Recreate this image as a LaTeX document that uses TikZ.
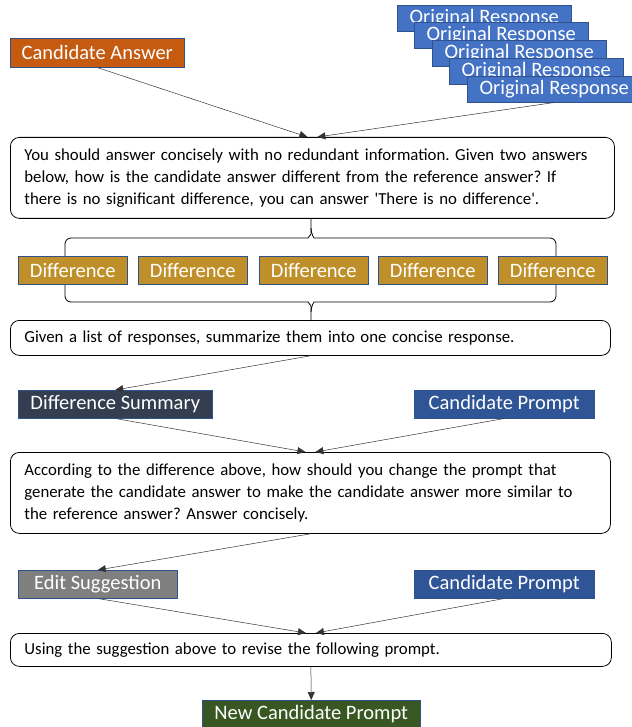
\documentclass[tikz,border=0pt]{standalone}
\usepackage{fontspec}
\setmainfont{Carlito}
\usetikzlibrary{arrows.meta}
\definecolor{origblue}{RGB}{68,114,196}
\definecolor{edgeblue}{RGB}{47,82,143}
\definecolor{candorange}{RGB}{197,90,17}
\definecolor{diffgold}{RGB}{191,144,41}
\definecolor{sumnavy}{RGB}{51,63,80}
\definecolor{promptblue}{RGB}{47,85,151}
\definecolor{editgray}{RGB}{127,127,127}
\definecolor{newgreen}{RGB}{56,87,35}
\tikzset{
    tag/.style={draw=edgeblue, line width=0.5pt, text=white, anchor=north west,
        inner sep=0pt, minimum height=28pt, font=\fontsize{20.5}{22}\selectfont},
    query/.style={draw=black, rounded corners=9pt, line width=0.8pt, anchor=north west,
        inner xsep=14pt, inner ysep=0pt, align=left, font=\fontsize{16.8}{22}\selectfont},
    link/.style={-{Triangle[length=8pt,width=7pt]}, line width=0.5pt, black!80},
    curly/.style={line width=0.8pt, rounded corners=6pt}
}
\frenchspacing

\begin{document}
\begin{tikzpicture}[x=1pt,y=-1pt]
    \useasboundingbox (0,0) rectangle (631,727);
    % stacked original responses
    \foreach \i/\x/\y in {1/397/5,2/414/22,3/432/40,4/449/58,5/467/76}
        \node[tag, fill=origblue, minimum width=174pt, minimum height=26pt] (orig\i) at (\x,\y) {Original Response};
    \node[tag, fill=candorange, minimum width=174pt, minimum height=29pt] (cand) at (10,38) {Candidate Answer};

    \node[query, text width=576pt, minimum height=81pt] (ask) at (10,137)
        {You should answer concisely with no redundant information. Given two answers\\
        below, how is the candidate answer different from the reference answer? If\\
        there is no significant difference, you can answer \textquotesingle There is no difference\textquotesingle.};
    \draw[link] (cand.south) -- ([xshift=-5pt]ask.north);
    \draw[link] (orig5.south) -- ([xshift=5pt]ask.north);

    % braces round the differences
    \draw[curly] (65,268) -- (65,238) -- (302,238) .. controls (308,238) and (311,234) .. (311,228) -- (311,219);
    \draw[curly] (556,268) -- (556,238) -- (320,238) .. controls (314,238) and (311,234) .. (311,228);
    \draw[curly] (65,270) -- (65,302) -- (302,302) .. controls (308,302) and (311,306) .. (311,312) -- (311,321);
    \draw[curly] (556,270) -- (556,302) -- (320,302) .. controls (314,302) and (311,306) .. (311,312);
    \foreach \i/\x in {1/18,2/138,3/259,4/378,5/498}
        \node[tag, fill=diffgold, minimum width=109pt] (diff\i) at (\x,256) {Difference};

    \node[query, text width=572pt, minimum height=35pt] (merge) at (10,320)
        {Given a list of responses, summarize them into one concise response.};
    \node[tag, fill=sumnavy, minimum width=194pt] (summ) at (18,390) {Difference Summary};
    \node[tag, fill=promptblue, minimum width=180pt] (cprompta) at (414,390) {Candidate Prompt};
    \draw[link] (merge.south) -- (summ.north);

    \node[query, text width=572pt, minimum height=81pt] (revise) at (10,452)
        {According to the difference above, how should you change the prompt that\\
        generate the candidate answer to make the candidate answer more similar to\\
        the reference answer? Answer concisely.};
    \draw[link] (summ.south) -- ([xshift=-5pt]revise.north);
    \draw[link] (cprompta.south) -- ([xshift=5pt]revise.north);

    \node[tag, fill=editgray, minimum width=159pt] (edit) at (18,570) {Edit Suggestion};
    \node[tag, fill=promptblue, minimum width=180pt] (cpromptb) at (414,570) {Candidate Prompt};
    \draw[link] (revise.south) -- (edit.north);

    \node[query, text width=573pt, minimum height=33pt] (apply) at (10,633)
        {Using the suggestion above to revise the following prompt.};
    \draw[link] (edit.south) -- ([xshift=-5pt]apply.north);
    \draw[link] (cpromptb.south) -- ([xshift=5pt]apply.north);

    \node[tag, fill=newgreen, minimum width=218pt] (newp) at (202,700) {New Candidate Prompt};
    \draw[link] (apply.south) -- (newp.north);
\end{tikzpicture}
\end{document}
